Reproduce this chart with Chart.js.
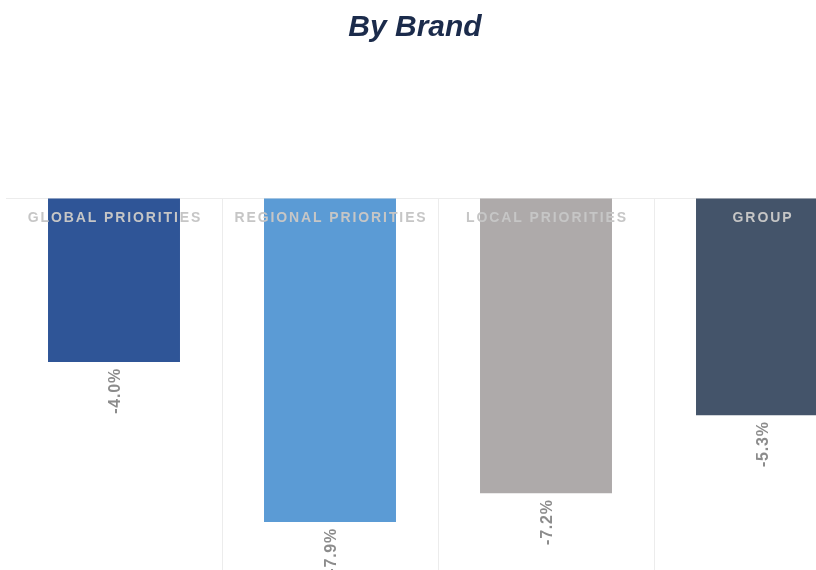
<!DOCTYPE html>
<html><head><meta charset="utf-8">
<script src="https://cdn.jsdelivr.net/npm/chart.js@4/dist/chart.umd.min.js"></script>
<style>
html,body{margin:0;padding:0;background:#fff;overflow:hidden;}
#wrap{position:relative;width:816px;height:570px;overflow:hidden;background:#fff;}
#box{position:absolute;left:0;top:0;width:880px;height:620px;}
</style></head><body>
<div id="wrap"><div id="box"><canvas id="c" width="880" height="620"></canvas></div></div>
<script>
const chartTitle = 'By Brand';
const categories = ['GLOBAL PRIORITIES', 'REGIONAL PRIORITIES', 'LOCAL PRIORITIES', 'GROUP'];
const values = [-4.0, -7.9, -7.2, -5.3];
const valueLabels = ['-4.0%', '-7.9%', '-7.2%', '-5.3%'];
const barColors = ['#2f5597', '#5b9bd5', '#aeaaaa', '#44546a'];

const labelPlugin = {
  id: 'labelPlugin',
  afterDatasetsDraw(chart) {
    const ctx = chart.ctx;
    const xs = chart.scales.x, ys = chart.scales.y;
    const y0 = ys.getPixelForValue(0);
    ctx.save();
    // title
    ctx.font = 'italic bold 30px "Liberation Sans", Arial, sans-serif';
    ctx.fillStyle = '#1b2b4b';
    ctx.textAlign = 'center';
    ctx.textBaseline = 'alphabetic';
    ctx.fillText(chartTitle, 415, 36);
    // category labels
    ctx.font = 'bold 14px "Liberation Sans", Arial, sans-serif';
    ctx.fillStyle = '#c6c6c6';
    try { ctx.letterSpacing = '1.9px'; } catch (e) {}
    categories.forEach((c, i) => {
      ctx.fillText(c, xs.getPixelForValue(i) + 1, y0 + 24);
    });
    // value labels
    ctx.font = 'bold 16px "Liberation Sans", Arial, sans-serif';
    ctx.fillStyle = '#8c8c8c';
    try { ctx.letterSpacing = '0.8px'; } catch (e) {}
    const meta = chart.getDatasetMeta(0);
    meta.data.forEach((bar, i) => {
      ctx.save();
      ctx.translate(bar.x, bar.y + 6);
      ctx.rotate(-Math.PI / 2);
      ctx.textAlign = 'right';
      ctx.textBaseline = 'alphabetic';
      ctx.fillText(valueLabels[i], 0, 6);
      ctx.restore();
    });
    ctx.restore();
  }
};

new Chart(document.getElementById('c'), {
  type: 'bar',
  data: {
    labels: categories,
    datasets: [{
      data: values,
      backgroundColor: barColors,
      borderWidth: 0,
      categoryPercentage: 1,
      barPercentage: 0.611
    }]
  },
  options: {
    responsive: false,
    devicePixelRatio: 1,
    animation: false,
    layout: { padding: { left: 6, right: 10, top: 198, bottom: 12 } },
    plugins: { legend: { display: false }, tooltip: { enabled: false }, title: { display: false } },
    scales: {
      x: {
        type: 'category',
        offset: true,
        ticks: { display: false },
        border: { display: false },
        grid: {
          offset: true,
          drawTicks: false,
          color: (ctx) => ctx.index === 0 ? 'rgba(0,0,0,0)' : '#ececec',
          lineWidth: 1
        }
      },
      y: {
        min: -10,
        max: 0,
        ticks: { display: false, stepSize: 1 },
        border: { display: false },
        grid: {
          drawTicks: false,
          color: (ctx) => (ctx.tick && ctx.tick.value === 0) ? '#ececec' : 'rgba(0,0,0,0)'
        }
      }
    }
  },
  plugins: [labelPlugin]
});
</script>
</body></html>
